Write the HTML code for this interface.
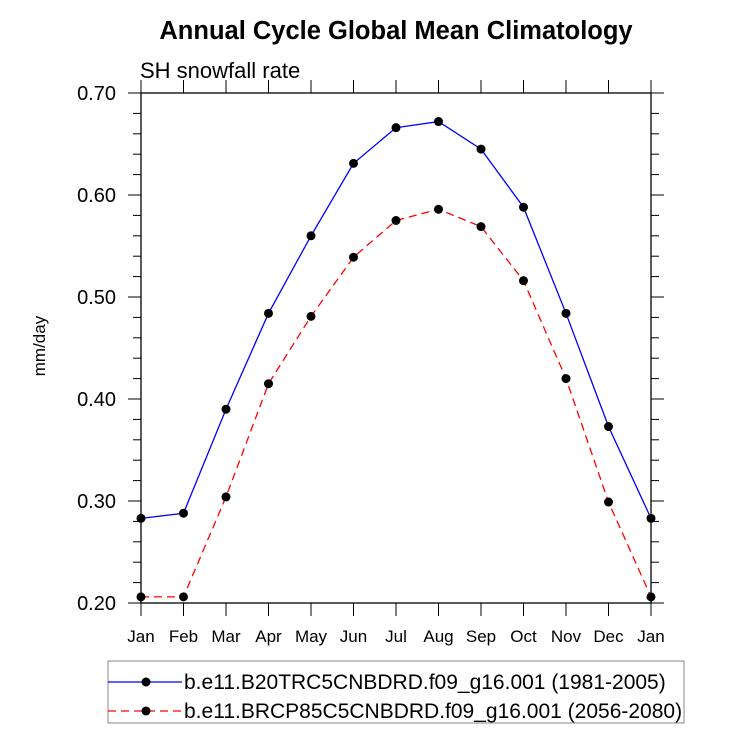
<!DOCTYPE html>
<html><head><meta charset="utf-8"><style>
body{margin:0;background:#fff}
svg{display:block;font-family:"Liberation Sans",Helvetica,Arial,sans-serif}
</style></head><body>
<svg id="chart" width="733" height="751" viewBox="0 0 733 751" xmlns="http://www.w3.org/2000/svg">
<rect width="733" height="751" fill="#fff"/>
<text x="396" y="39" font-size="25.5" font-weight="bold" text-anchor="middle">Annual Cycle Global Mean Climatology</text>
<text x="140" y="78" font-size="22">SH snowfall rate</text>
<text transform="translate(45,346) rotate(-90)" font-size="17" text-anchor="middle">mm/day</text>
<g id="axes"></g>
<g id="series"></g>
<g>
<rect x="108" y="661" width="576" height="62" fill="none" stroke="#888" stroke-width="1"/>
<line x1="108" y1="682" x2="182" y2="682" stroke="#0000ff" stroke-width="1.3"/>
<circle cx="146" cy="682" r="4.5" fill="#000"/>
<text x="184" y="689" font-size="21">b.e11.B20TRC5CNBDRD.f09_g16.001 (1981-2005)</text>
<line x1="108" y1="711" x2="182" y2="711" stroke="#ff0000" stroke-width="1.3" stroke-dasharray="8,5"/>
<circle cx="146" cy="711" r="4.5" fill="#000"/>
<text x="184" y="718" font-size="21">b.e11.BRCP85C5CNBDRD.f09_g16.001 (2056-2080)</text>
</g>
</svg>
<script>
const months=["Jan","Feb","Mar","Apr","May","Jun","Jul","Aug","Sep","Oct","Nov","Dec","Jan"];
const histValues=[0.283,0.288,0.390,0.484,0.560,0.631,0.666,0.672,0.645,0.588,0.484,0.373,0.283];
const futValues=[0.206,0.206,0.304,0.415,0.481,0.539,0.575,0.586,0.569,0.516,0.420,0.299,0.206];
const yTicks=[0.2,0.3,0.4,0.5,0.6,0.7];
const yTickLabels=["0.20","0.30","0.40","0.50","0.60","0.70"];
const L=141,R=651,T=93,B=603,ymin=0.2,ymax=0.7;
const xs=i=>L+(R-L)*i/(months.length-1);
const ys=v=>B-(v-ymin)/(ymax-ymin)*(B-T);
const NS="http://www.w3.org/2000/svg";
function mk(tag,attrs,parent){const e=document.createElementNS(NS,tag);for(const k in attrs)e.setAttribute(k,attrs[k]);parent.appendChild(e);return e;}
const ax=document.getElementById('axes');
const frame=mk('rect',{x:L,y:T,width:R-L,height:B-T,fill:'none',stroke:'#000','stroke-width':1.3},ax);


months.forEach((m,i)=>{
  const x=xs(i);
  mk('line',{x1:x,y1:B,x2:x,y2:B+13,stroke:'#000'},ax);
  mk('line',{x1:x,y1:T,x2:x,y2:T-13,stroke:'#000'},ax);
  const t=mk('text',{x:x,y:B+39,'font-size':17,'text-anchor':'middle'},ax);
  t.textContent=m;
  
  
});
for(let v=ymin;v<=ymax+1e-9;v+=0.02){
  const y=ys(v);
  mk('line',{x1:L,y1:y,x2:L-8,y2:y,stroke:'#000'},ax);
  mk('line',{x1:R,y1:y,x2:R+8,y2:y,stroke:'#000'},ax);
}
yTicks.forEach((v,i)=>{
  const y=ys(v);
  mk('line',{x1:L,y1:y,x2:L-13,y2:y,stroke:'#000'},ax);
  mk('line',{x1:R,y1:y,x2:R+13,y2:y,stroke:'#000'},ax);
  const t=mk('text',{x:L-25,y:y+7,'font-size':20,'text-anchor':'end'},ax);
  t.textContent=yTickLabels[i];
  
  
});
const sg=document.getElementById('series');
function series(vals,color,dash,name){
  const p=mk('polyline',{points:vals.map((v,i)=>xs(i)+','+ys(v)).join(' '),fill:'none',stroke:color,'stroke-width':1.3,'stroke-dasharray':dash},sg);
  
  
  vals.forEach((v,i)=>{
    const c=mk('circle',{cx:xs(i),cy:ys(v),r:4.5,fill:'#000'},sg);
    
    
  });
}
series(histValues,'#0000ff','none','historical');
series(futValues,'#ff0000','8,5','future');
</script>
</body></html>
